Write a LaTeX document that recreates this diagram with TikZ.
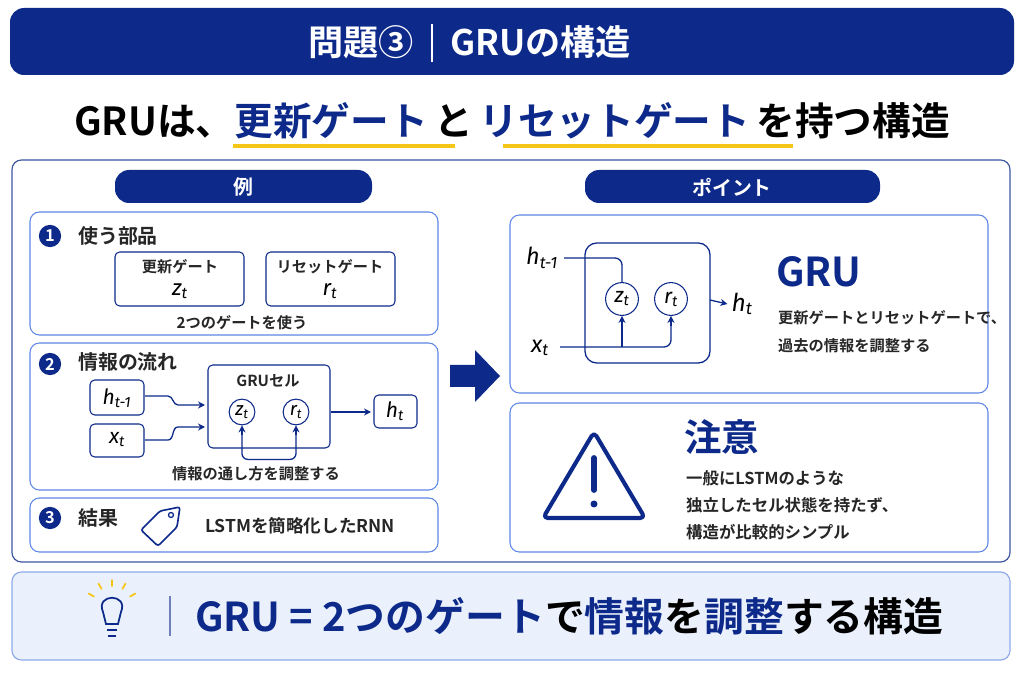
\documentclass[tikz,border=0pt]{standalone}
\usepackage{fontspec}
\setmainfont{Noto Sans CJK JP}[BoldFont={Noto Sans CJK JP Bold}]
\newfontfamily\varfont{Fira Sans}
\usetikzlibrary{positioning,arrows.meta,calc}
\definecolor{navy}{HTML}{0D2A8A}
\definecolor{lineblue}{HTML}{5E86E6}
\definecolor{paleblue}{HTML}{EAF0FC}
\definecolor{gold}{HTML}{F5C518}
\newcommand{\fs}[1]{\fontsize{#1}{#1}\selectfont}
\newcommand{\var}[2]{{\varfont\itshape #1\textsubscript{#2}}}
\tikzset{
  panel/.style={draw=lineblue,line width=0.9pt,rounded corners=8pt,fill=white},
  ibox/.style={draw=navy,line width=0.9pt,rounded corners=4pt,fill=white},
  num/.style={circle,fill=navy,text=white,inner sep=0pt,minimum size=19pt,font=\fs{14}\bfseries},
  gate/.style={circle,draw=navy,line width=0.9pt,inner sep=0pt,minimum size=22pt,font=\fs{16}},
  flow/.style={draw=navy,line width=1.1pt,-{Stealth[length=6pt,width=6pt]}},
  txt/.style={font=\fs{13}\bfseries,text=black!85,inner sep=0pt},
  head/.style={font=\fs{17}\bfseries,text=black!85,inner sep=0pt,anchor=west},
}
\begin{document}
\begin{tikzpicture}[x=0.03cm,y=-0.03cm]
\useasboundingbox (0,0) rectangle (1024,683);
\fill[white] (0,0) rectangle (1024,683);
% title
\fill[navy,rounded corners=12pt] (10,8) rectangle (1014,75);
\node[text=white,font=\fs{30}\bfseries,anchor=east] (ttl) at (418,42) {問題③};
\node[text=white,font=\fs{30}\bfseries,anchor=west] (ttr) at (446,42) {GRUの構造};
\draw[white,line width=1pt] (432,24) -- (432,62);
% subtitle
\draw[gold,line width=3pt] (233,146) -- (455,146);
\draw[gold,line width=3pt] (503,146) -- (793,146);
\node[font=\fs{33}\bfseries,inner sep=0pt] (sub) at (512,121)
  {GRUは、\textcolor{navy}{更新ゲート}\,と\,\textcolor{navy}{リセットゲート}\,を持つ構造};
% main panel
\draw[panel,draw=navy!80,line width=1pt] (12,160) rectangle (1010,562);
\fill[navy,rounded corners=12pt] (115,170) rectangle (372,203);
\node[text=white,font=\fs{17}\bfseries] (rei) at (243,187) {例};
\fill[navy,rounded corners=12pt] (585,170) rectangle (880,203);
\node[text=white,font=\fs{17}\bfseries] (pt) at (732,187) {ポイント};
% box 1
\draw[panel] (30,212) rectangle (438,335);
\node[num] (n1) at (50,236) {1};
\node[head] (h1) at (78,236) {使う部品};
\draw[ibox] (115,252) rectangle (244,306);
\node[txt] (zg) at (180,267) {更新ゲート};
\node[font=\fs{19}] (zv) at (180,291) {\var{z}{t}};
\draw[ibox] (266,252) rectangle (395,306);
\node[txt] (rg) at (330,267) {リセットゲート};
\node[font=\fs{19}] (rv) at (330,291) {\var{r}{t}};
\node[txt] (c1) at (242,323) {2つのゲートを使う};
% box 2
\draw[panel] (30,343) rectangle (438,490);
\node[num] (n2) at (50,364) {2};
\node[head] (h2) at (78,362) {情報の流れ};
\draw[ibox] (90,380) rectangle (144,415);
\node[font=\fs{18}] (hin) at (117,398) {\var{h}{t-1}};
\draw[ibox] (90,424) rectangle (144,457);
\node[font=\fs{18}] (xin) at (117,440) {\var{x}{t}};
\draw[ibox] (208,365) rectangle (330,448);
\node[txt] (cell) at (268,381) {GRUセル};
\node[gate] (z2) at (242,412) {\var{z}{t}};
\node[gate] (r2) at (296,412) {\var{r}{t}};
\draw[ibox] (374,395) rectangle (417,428);
\node[font=\fs{18}] (hout) at (395,411) {\var{h}{t}};
\draw[flow] (145,396) -- (168,396) to[out=0,in=180] (178,405) -- (205,405);
\draw[flow] (145,440) -- (168,440) to[out=0,in=180] (178,427) -- (205,427);
\draw[flow] (331,412) -- (371,412);
\draw[draw=navy,line width=1.1pt,rounded corners=5pt] (z2.south) ++(0,8) -- ++(0,26) -| ($(r2.south)+(0,8)$);
\draw[flow] ($(r2.south)+(0,10)$) -- (r2.south);
\draw[flow] ($(z2.south)+(0,10)$) -- (z2.south);
\node[txt] (c2) at (256,474) {情報の通し方を調整する};
% box 3
\draw[panel] (30,498) rectangle (438,552);
\node[num] (n3) at (50,518) {3};
\node[head] (h3) at (78,518) {結果};
\draw[navy,line width=1.4pt,line join=round,rounded corners=2pt] (141,530) -- (160,511) -- (180,507) -- (177,527) -- (158,546) -- cycle;
\draw[navy,line width=1.1pt] (171,515) circle (2.5);
\node[txt,font=\fs{15}\bfseries] (c3) at (300,526) {LSTMを簡略化したRNN};
% big arrow
\fill[navy] (450,365) -- (475,365) -- (475,350) -- (500,376) -- (475,402) -- (475,387) -- (450,387) -- cycle;
% right box 1
\draw[panel] (510,215) rectangle (988,393);
\draw[ibox,line width=1.1pt,rounded corners=10pt] (585,243) rectangle (710,363);
\node[font=\fs{20}] (hp) at (542,258) {\var{h}{t-1}};
\node[font=\fs{20}] (xp) at (540,348) {\var{x}{t}};
\node[gate,minimum size=28pt,font=\fs{18}] (zp) at (622,299) {\var{z}{t}};
\node[gate,minimum size=28pt,font=\fs{18}] (rp) at (671,299) {\var{r}{t}};
\draw[navy,line width=1.1pt,rounded corners=6pt] (564,258) -| (zp.north);
\draw[draw=navy,line width=1.1pt,rounded corners=6pt] (560,347) -| ($(rp.south)+(0,8)$);
\draw[flow] ($(rp.south)+(0,10)$) -- (rp.south);
\draw[flow] (622,347) -- (zp.south);
\node[font=\fs{21}] (hpo) at (742,304) {\var{h}{t}};
\draw[flow] (710,300) -- (hpo.west);
\node[font=\fs{34}\bfseries,text=navy,anchor=west,inner sep=0pt] (gru) at (776,272) {GRU};
\node[txt,anchor=west] (d1) at (778,318) {更新ゲートとリセットゲートで、};
\node[txt,anchor=west] (d2) at (778,346) {過去の情報を調整する};
% right box 2
\draw[panel] (510,403) rectangle (988,552);
\draw[navy,line width=3.5pt,line join=round,rounded corners=4pt] (594,432) -- (645,518) -- (543,518) -- cycle;
\draw[navy,line width=5pt,line cap=round] (594,458) -- (594,490);
\fill[navy] (594,504) circle (3.5);
\node[font=\fs{32}\bfseries,text=navy,anchor=west,inner sep=0pt] (chu) at (684,437) {注意};
\node[txt,anchor=west,font=\fs{14}\bfseries] (e1) at (686,478) {一般にLSTMのような};
\node[txt,anchor=west,font=\fs{14}\bfseries] (e2) at (686,505) {独立したセル状態を持たず、};
\node[txt,anchor=west,font=\fs{14}\bfseries] (e3) at (686,532) {構造が比較的シンプル};
% bottom bar
\draw[fill=paleblue,draw=lineblue!70,line width=1pt,rounded corners=8pt] (12,572) rectangle (1010,660);
\draw[navy,line width=1.5pt] (103,612) .. controls (95,593) and (129,593) .. (121,612) -- (118,624) -- (106,624) -- cycle;
\draw[navy,line width=1.5pt] (107,630) -- (117,630) (108,636) -- (116,636);
\foreach \a in {150,120,90,60,30} {
  \draw[gold,line width=1.5pt,line cap=round] ($(112,607)+(\a:-21)$) -- ($(112,607)+(\a:-27)$);
}
\draw[navy!60,line width=1pt] (170,596) -- (170,636);
\node[font=\fs{34}\bfseries,anchor=west,inner sep=0pt] (sum) at (195,616)
  {\textcolor{navy}{GRU = 2つのゲート}で\textcolor{navy}{情報}を\textcolor{navy}{調整}する構造};
\end{tikzpicture}
\end{document}
